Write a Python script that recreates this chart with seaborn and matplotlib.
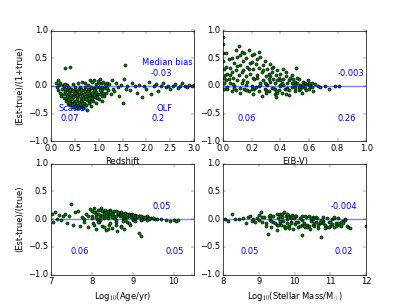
import matplotlib
matplotlib.use('Agg')
import matplotlib.pyplot as plt
import seaborn as sns

plt.style.use('classic')

# Redshift panel
z_true = [0.10, 0.12, 0.14, 0.15, 0.17, 0.19, 0.20, 0.22, 0.24, 0.26, 0.27, 0.29, 0.30, 0.30,
          0.31, 0.32, 0.33, 0.34, 0.35, 0.36, 0.37, 0.38, 0.39, 0.40, 0.40, 0.41, 0.42, 0.43, 0.44, 0.45, 0.46, 0.47, 0.48, 0.49, 0.50,
          0.51, 0.52, 0.53, 0.54, 0.55, 0.56, 0.57, 0.58, 0.59, 0.60, 0.61, 0.62, 0.63, 0.64, 0.65, 0.66, 0.67, 0.68, 0.69, 0.70,
          0.71, 0.72, 0.73, 0.74, 0.75, 0.76, 0.77, 0.78, 0.79, 0.80, 0.81, 0.82, 0.83, 0.84, 0.85, 0.86, 0.87, 0.88, 0.89, 0.90,
          0.91, 0.92, 0.93, 0.94, 0.95, 0.97, 0.98, 1.00, 1.01, 1.02, 1.04, 1.05, 1.06, 1.08, 1.10, 1.11, 1.13, 1.15, 1.17, 1.20,
          1.22, 1.25, 1.28, 1.30, 1.33, 1.36, 1.40, 1.43, 1.46, 1.50, 1.52, 1.55, 1.57, 1.60,
          1.65, 1.70, 1.75, 1.80, 1.85, 1.90, 1.95, 2.00, 2.05, 2.10, 2.15, 2.20, 2.25, 2.30,
          2.35, 2.40, 2.45, 2.50, 2.55, 2.60, 2.65, 2.70, 2.75, 2.80, 2.85, 2.90, 2.95, 3.00,
          0.35, 0.38, 0.42, 0.45, 0.48, 0.52, 0.55, 0.58, 0.62, 0.65, 0.68, 0.72, 0.75, 0.78, 0.82, 0.85, 0.88, 0.92, 0.95, 0.98]
z_err = [0.05, -0.02, 0.10, -0.08, 0.02, -0.12, 0.06, -0.18, -0.05, 0.01, -0.22, -0.10, 0.33, 0.04,
         -0.15, -0.28, 0.02, -0.08, -0.32, -0.20, -0.04, -0.12, -0.25, 0.35, -0.35, -0.18, -0.06, -0.30, -0.10, -0.22, 0.03, -0.38, -0.14, -0.27, -0.05,
         -0.33, -0.19, -0.40, -0.09, -0.24, 0.05, -0.36, -0.15, -0.29, -0.02, -0.38, -0.21, -0.11, -0.34, -0.26, 0.08, -0.17, -0.40, -0.07, -0.30,
         -0.22, 0.06, -0.34, -0.13, -0.43, -0.25, 0.02, -0.18, -0.31, -0.08, -0.27, 0.10, -0.15, -0.36, -0.04, -0.21, 0.07, -0.28, -0.11, -0.03,
         0.11, -0.20, -0.06, 0.04, -0.30, -0.14, 0.09, -0.02, -0.24, 0.12, -0.10, 0.05, -0.27, -0.06, 0.08, -0.18, -0.03, -0.12, 0.06, -0.08,
         0.03, -0.15, 0.10, -0.05, -0.10, 0.06, -0.02, -0.18, 0.02, -0.30, 0.12, 0.38, -0.06, 0.00,
         -0.08, 0.05, 0.00, -0.12, 0.02, -0.20, 0.00, -0.05, 0.08, -0.14, 0.00, 0.03, -0.10, 0.00,
         0.05, -0.02, 0.00, -0.06, 0.00, 0.04, -0.03, 0.00, 0.06, 0.00, -0.02, 0.01, 0.00, 0.02,
         -0.02, -0.21, -0.16, -0.07, -0.31, -0.12, -0.34, -0.06, -0.27, -0.16, -0.23, -0.10, -0.19, -0.05, -0.20, -0.12, -0.16, -0.09, -0.01, -0.15]
z_true_more = [0.25, 0.28, 0.32, 0.36, 0.40, 0.44, 0.47, 0.50, 0.53, 0.56, 0.60, 0.63, 0.66, 0.70, 0.73, 0.77, 0.80, 0.84, 0.87, 0.90,
               0.94, 0.97, 1.00, 1.03, 1.07, 1.10, 1.14, 1.18,
               0.30, 0.34, 0.38, 0.43, 0.47, 0.51, 0.55, 0.59, 0.63, 0.67, 0.71, 0.75, 0.79, 0.83, 0.87, 0.91, 0.96, 1.02, 1.08, 1.15]
z_err_more = [-0.14, 0.00, -0.22, -0.26, -0.08, -0.33, -0.20, -0.12, -0.28, -0.18, -0.33, -0.05, -0.30, -0.14, -0.24, -0.09, -0.16, -0.02, -0.22, -0.17,
              -0.11, -0.22, 0.06, -0.15, -0.01, -0.13, 0.04, -0.04,
              -0.06, -0.18, -0.30, -0.24, -0.10, -0.02, -0.17, -0.39, -0.08, -0.36, -0.02, -0.12, -0.22, -0.28, -0.13, -0.07, -0.20, -0.08, -0.18, 0.02]

# E(B-V) panel
ebv_true = [0.00, 0.00, 0.00, 0.00, 0.005, 0.005, 0.01, 0.01, 0.015, 0.02,
            0.02, 0.03, 0.03, 0.04, 0.05, 0.05, 0.06, 0.06, 0.07, 0.08, 0.08, 0.09, 0.09, 0.10, 0.10,
            0.11, 0.11, 0.12, 0.12, 0.13, 0.13, 0.14, 0.14, 0.15, 0.15, 0.16, 0.16, 0.17, 0.17, 0.18, 0.18, 0.19, 0.19, 0.20, 0.20,
            0.21, 0.21, 0.22, 0.22, 0.23, 0.23, 0.24, 0.24, 0.25, 0.25, 0.26, 0.26, 0.27, 0.27, 0.28, 0.28, 0.29, 0.29, 0.30, 0.30,
            0.31, 0.31, 0.32, 0.32, 0.33, 0.33, 0.34, 0.34, 0.35, 0.35, 0.36, 0.36, 0.37, 0.37, 0.38, 0.38, 0.39, 0.39, 0.40, 0.40,
            0.41, 0.42, 0.42, 0.43, 0.44, 0.44, 0.45, 0.46, 0.46, 0.47, 0.48, 0.48, 0.49, 0.50, 0.50,
            0.51, 0.52, 0.53, 0.53, 0.54, 0.55, 0.56, 0.57, 0.58, 0.59, 0.60, 0.61, 0.62, 0.63, 0.64, 0.66, 0.68, 0.71, 0.74, 0.78, 0.81,
            0.03, 0.07, 0.12, 0.16, 0.20, 0.25, 0.30, 0.35, 0.40, 0.45, 0.50, 0.55, 0.60]
ebv_err = [0.88, 0.75, 0.60, 0.45, 0.30, 0.15, 0.05, -0.05, 0.20, 0.10,
           0.35, -0.05, 0.22, 0.48, 0.05, 0.32, 0.50, -0.10, 0.15, 0.42, 0.00, 0.28, -0.08, 0.52, 0.10,
           0.72, 0.20, 0.38, -0.12, 0.62, 0.05, 0.45, 0.28, 0.60, -0.05, 0.18, 0.50, 0.35, 0.08, 0.65, -0.10, 0.42, 0.22, 0.55, 0.00,
           0.30, -0.15, 0.58, 0.12, 0.40, -0.02, 0.20, 0.48, -0.10, 0.33, 0.52, 0.06, 0.25, -0.18, 0.38, 0.10, -0.05, 0.45, 0.18, -0.12,
           0.30, 0.02, 0.22, -0.10, 0.40, 0.08, -0.04, 0.25, 0.12, 0.35, -0.15, 0.05, 0.20, -0.20, 0.10, 0.28, -0.08, 0.15, 0.02, 0.22,
           -0.12, 0.12, 0.30, -0.05, 0.18, -0.14, 0.05, 0.10, -0.08, 0.15, -0.02, 0.20, 0.06, -0.10, 0.08,
           0.32, 0.05, -0.08, 0.12, 0.02, -0.12, 0.08, -0.04, 0.03, 0.10, -0.06, 0.00, 0.06, -0.10, 0.03, 0.00, -0.02, 0.00, -0.05, 0.00, 0.00,
           -0.02, 0.04, -0.03, 0.02, -0.06, 0.00, 0.03, -0.03, 0.00, -0.04, 0.02, -0.01, 0.01]
ebv_true_more = [0.02, 0.04, 0.06, 0.08, 0.10, 0.12, 0.14, 0.16, 0.18, 0.20, 0.22, 0.24, 0.26, 0.28, 0.30, 0.32, 0.34, 0.36, 0.38, 0.40,
                 0.42, 0.44, 0.46, 0.48, 0.50, 0.52, 0.54, 0.56, 0.58, 0.60, 0.62,
                 0.05, 0.09, 0.13, 0.17, 0.21, 0.25, 0.29, 0.33, 0.37, 0.41, 0.45, 0.49, 0.53, 0.57]
ebv_err_more = [0.60, 0.12, 0.26, -0.04, 0.36, 0.55, 0.10, -0.07, 0.30, 0.44, -0.06, 0.15, 0.02, 0.28, -0.08, 0.12, 0.32, -0.06, -0.12, 0.10,
                0.02, 0.25, -0.16, 0.06, -0.04, 0.15, -0.06, 0.02, -0.08, 0.05, -0.02,
                0.20, 0.65, 0.25, -0.08, 0.14, 0.62, 0.06, 0.18, -0.10, 0.06, -0.05, 0.12, -0.02, 0.06]

# Age panel
age_true = [7.02, 7.05, 7.10, 7.15, 7.20, 7.25, 7.30, 7.35, 7.40, 7.45, 7.50, 7.55, 7.60, 7.65, 7.70, 7.75, 7.80,
            7.85, 7.90, 7.95, 8.00, 8.02, 8.05, 8.08, 8.10, 8.12, 8.15, 8.18, 8.20, 8.22, 8.25, 8.28, 8.30,
            8.32, 8.35, 8.38, 8.40, 8.42, 8.45, 8.48, 8.50, 8.52, 8.55, 8.58, 8.60, 8.62, 8.65, 8.68, 8.70, 8.72, 8.75, 8.78, 8.80,
            8.82, 8.85, 8.88, 8.90, 8.92, 8.95, 8.98, 9.00, 9.05, 9.10, 9.15, 9.15, 9.20, 9.25, 9.30, 9.35, 9.40, 9.45, 9.50, 9.55, 9.60,
            7.80, 8.00, 8.20, 8.40, 8.60, 8.80, 9.00, 9.20, 9.40, 9.70, 9.80, 9.90, 10.00, 10.05, 10.10,
            8.10, 8.25, 8.35, 8.45, 8.55, 8.65, 8.75, 8.85, 8.95, 9.05, 9.15, 9.25, 9.35]
age_err = [0.10, -0.05, 0.12, 0.00, 0.08, -0.02, 0.05, 0.10, -0.08, 0.06, 0.27, -0.10, 0.12, 0.15, -0.12, 0.04, -0.06,
           0.10, -0.15, 0.18, 0.05, -0.08, 0.20, 0.12, -0.18, 0.00, 0.16, -0.05, 0.08, 0.20, -0.12, 0.14, 0.02,
           0.17, -0.20, 0.10, 0.04, -0.10, 0.16, 0.08, -0.16, 0.12, 0.02, -0.06, 0.14, -0.22, 0.09, 0.05, -0.12, 0.12, 0.01, -0.18, 0.08,
           0.11, -0.05, 0.07, 0.10, -0.10, 0.05, 0.09, -0.02, 0.07, 0.04, -0.26, 0.06, -0.30, 0.04, 0.02, 0.03, 0.00, 0.02, 0.01, 0.00, 0.00,
           0.00, 0.02, -0.02, 0.01, -0.01, 0.02, 0.00, -0.01, 0.01, 0.00, -0.01, -0.03, -0.02, -0.03, -0.02,
           0.10, 0.06, 0.13, 0.09, 0.06, 0.11, 0.07, 0.04, 0.08, 0.02, 0.05, 0.00, 0.06]
age_true_more = [7.90, 8.00, 8.05, 8.10, 8.15, 8.20, 8.25, 8.30, 8.35, 8.40, 8.45, 8.50, 8.55, 8.60, 8.65, 8.70, 8.75, 8.80, 8.85, 8.90,
                 8.95, 9.00, 9.05, 9.10, 9.20, 9.30, 9.40, 9.50,
                 8.05, 8.15, 8.30, 8.45, 8.60, 8.75, 8.90, 9.05, 9.20, 9.35, 8.20, 8.50, 8.80, 8.40, 8.70]
age_err_more = [0.06, 0.15, 0.12, 0.04, 0.10, 0.17, 0.14, 0.09, 0.06, 0.15, 0.12, 0.10, 0.14, 0.06, 0.13, 0.08, 0.10, 0.05, 0.09, 0.06,
                0.03, 0.08, 0.04, 0.06, 0.05, 0.04, 0.02, 0.01,
                -0.10, -0.05, -0.14, -0.08, -0.10, -0.04, -0.07, -0.04, 0.00, -0.02, 0.02, 0.03, -0.02, -0.18, -0.14]

# Stellar mass panel
mass_true = [8.05, 8.15, 8.25, 8.35, 8.45, 8.55, 8.65, 8.70, 8.75, 8.80, 8.85, 8.90, 8.95, 9.00,
             9.05, 9.10, 9.15, 9.20, 9.25, 9.28, 9.30, 9.35, 9.40, 9.45, 9.50, 9.52, 9.55, 9.58, 9.60,
             9.62, 9.65, 9.68, 9.70, 9.72, 9.75, 9.78, 9.80, 9.82, 9.85, 9.88, 9.90, 9.92, 9.95, 9.98, 10.00, 10.05, 10.10, 10.15, 10.20,
             10.22, 10.25, 10.30, 10.32, 10.35, 10.40, 10.42, 10.45, 10.50, 10.55, 10.60, 10.62, 10.65, 10.70, 10.75, 10.80, 10.85, 10.90, 10.95, 11.00,
             11.05, 11.10, 11.15, 11.20, 11.25, 11.30, 11.35, 11.40, 11.45, 11.50, 11.55, 12.00,
             9.00, 9.30, 9.60, 9.90, 10.20, 10.50, 10.80, 11.10, 11.40]
mass_err = [0.00, -0.03, 0.10, 0.00, 0.00, 0.01, -0.08, 0.03, 0.05, -0.04, 0.00, -0.06, 0.02, 0.08,
            0.12, -0.05, 0.03, -0.12, -0.27, 0.06, -0.02, -0.15, 0.05, -0.08, 0.09, -0.20, 0.02, -0.06, 0.10,
            -0.10, 0.04, -0.04, 0.13, -0.16, 0.06, -0.08, 0.00, 0.07, -0.12, 0.03, -0.05, 0.08, -0.18, 0.02, -0.09, 0.05, -0.14, 0.01, -0.28,
            0.06, -0.07, -0.15, 0.03, -0.10, 0.05, -0.18, -0.04, 0.04, -0.12, -0.06, 0.02, -0.16, -0.08, -0.32, 0.03, -0.10, -0.14, -0.05, -0.12,
            0.00, -0.15, -0.08, 0.02, -0.10, -0.13, -0.04, 0.00, -0.13, -0.15, -0.16, -0.13,
            -0.02, 0.01, -0.03, 0.02, -0.02, 0.00, -0.03, 0.01, -0.02]
mass_true_more = [9.10, 9.20, 9.30, 9.40, 9.50, 9.60, 9.70, 9.80, 9.90, 10.00, 10.10, 10.20, 10.30, 10.40, 10.50, 10.60, 10.70, 10.80,
                  10.90, 11.00, 11.10, 11.20, 11.30,
                  9.35, 9.55, 9.75, 9.95, 10.15, 10.35, 10.55, 10.75, 10.95, 11.15, 11.35,
                  9.65, 9.85, 10.05, 10.25, 10.45, 10.65, 10.85, 11.05]
mass_err_more = [0.04, -0.08, 0.08, -0.06, -0.10, 0.06, -0.12, 0.10, -0.08, 0.06, -0.06, -0.10, 0.05, -0.12, -0.10, 0.04, -0.06, -0.08,
                 0.02, -0.06, 0.04, -0.08, -0.06,
                 -0.03, -0.10, -0.14, 0.04, -0.12, -0.15, -0.08, -0.02, -0.15, -0.12, -0.08,
                 0.09, -0.16, -0.06, -0.13, 0.01, -0.10, -0.16, -0.09]

# annotations: (text, x, y)
labels_z = [('Median bias', 1.90, 0.42), ('-0.03', 2.09, 0.22), ('Scatter', 0.17, -0.40),
            ('0.07', 0.21, -0.58), ('OLF', 2.20, -0.40), ('0.2', 2.11, -0.58)]
labels_ebv = [('-0.003', 0.80, 0.22), ('0.06', 0.10, -0.58), ('0.26', 0.80, -0.58)]
labels_age = [('0.05', 9.49, 0.22), ('0.06', 7.49, -0.58), ('0.05', 9.81, -0.58)]
labels_mass = [('-0.004', 10.99, 0.22), ('0.05', 8.50, -0.58), ('0.02', 11.10, -0.58)]


def draw_panel(ax, x, y, xlim, xticks, xlabel, labels):
    sns.scatterplot(x=x, y=y, ax=ax, color='g', edgecolor='k', linewidth=0.8, s=20, legend=False)
    ax.axhline(0, color='b', alpha=0.5, lw=2)
    ax.set_xlim(xlim)
    ax.set_ylim(-1, 1)
    ax.set_xticks(xticks)
    ax.set_yticks([-1.0, -0.5, 0.0, 0.5, 1.0])
    ax.set_xlabel(xlabel)
    for txt, tx, ty in labels:
        ax.text(tx, ty, txt, color='b', ha='left', va='center', fontsize=12)


fig, axes = plt.subplots(2, 2, figsize=(8.14, 6.1), dpi=50)
fig.patch.set_facecolor('white')

draw_panel(axes[0, 0], z_true + z_true_more, z_err + z_err_more, (0, 3),
           [0.0, 0.5, 1.0, 1.5, 2.0, 2.5, 3.0], 'Redshift', labels_z)
draw_panel(axes[0, 1], ebv_true + ebv_true_more, ebv_err + ebv_err_more, (0, 1),
           [0.0, 0.2, 0.4, 0.6, 0.8, 1.0], 'E(B-V)', labels_ebv)
draw_panel(axes[1, 0], age_true + age_true_more, age_err + age_err_more, (7, 10.5),
           [7, 8, 9, 10], 'Log$_{10}$(Age/yr)', labels_age)
draw_panel(axes[1, 1], mass_true + mass_true_more, mass_err + mass_err_more, (8, 12),
           [8, 9, 10, 11, 12], r'Log$_{10}$(Stellar Mass/M$_{\odot}$)', labels_mass)

axes[0, 0].set_ylabel('(Est-true)/(1+true)')
axes[1, 0].set_ylabel('(Est-true)/(true)')

fig.savefig('out.png', dpi=50, facecolor='white')
